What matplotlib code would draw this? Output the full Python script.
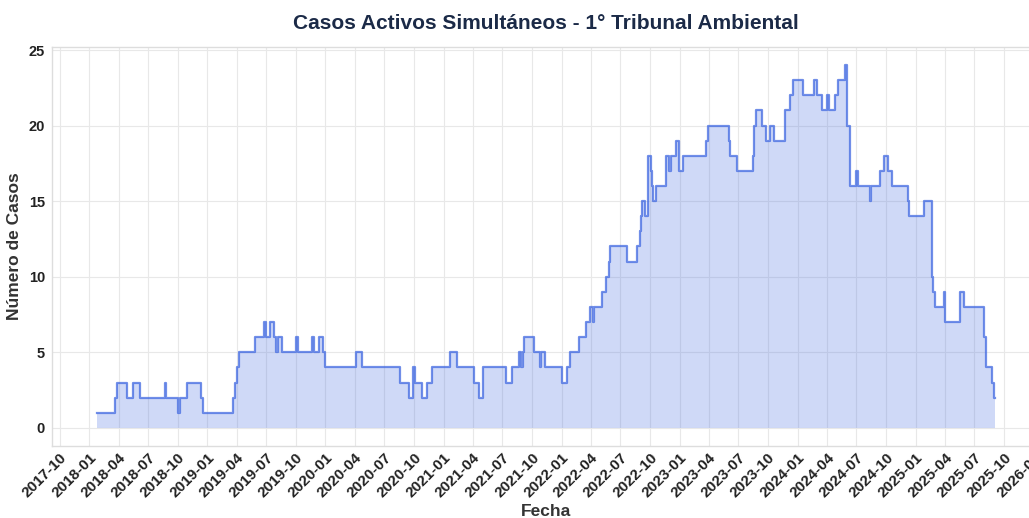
import pandas as pd
import matplotlib
matplotlib.use("Agg")
import matplotlib.pyplot as plt
import matplotlib.dates as mdates

plt.rcParams["font.family"] = ["Liberation Sans", "DejaVu Sans"]

# Cambios en el número de casos activos (fecha del cambio, nuevo valor)
fechas = [
    "2018-01-24", "2018-03-20", "2018-03-27", "2018-04-27", "2018-05-17", "2018-06-05",
    "2018-08-22", "2018-08-25", "2018-10-03", "2018-10-09", "2018-10-29", "2018-12-13",
    "2018-12-19", "2019-03-21", "2019-03-27", "2019-04-01", "2019-04-09", "2019-05-28",
    "2019-06-26", "2019-07-01", "2019-07-14", "2019-07-26", "2019-08-01", "2019-08-06",
    "2019-08-21", "2019-10-02", "2019-10-08", "2019-11-20", "2019-11-26", "2019-12-13",
    "2019-12-26", "2020-01-01", "2020-04-05", "2020-04-24", "2020-08-18", "2020-09-17",
    "2020-09-27", "2020-10-05", "2020-10-27", "2020-11-10", "2020-11-26", "2021-01-20",
    "2021-02-12", "2021-04-06", "2021-04-20", "2021-05-04", "2021-07-13", "2021-08-01",
    "2021-08-23", "2021-08-29", "2021-09-03", "2021-09-06", "2021-10-06", "2021-10-25",
    "2021-10-30", "2021-11-10", "2022-01-03", "2022-01-18", "2022-01-26", "2022-02-23",
    "2022-03-17", "2022-03-31", "2022-04-07", "2022-04-11", "2022-05-06", "2022-05-17",
    "2022-05-26", "2022-05-31", "2022-07-21", "2022-08-22", "2022-08-30", "2022-09-02",
    "2022-09-05", "2022-09-17", "2022-09-24", "2022-10-03", "2022-10-06", "2022-10-12",
    "2022-10-19", "2022-11-21", "2022-11-28", "2022-12-06", "2022-12-20", "2022-12-30",
    "2023-01-10", "2023-03-22", "2023-03-30", "2023-06-02", "2023-06-06", "2023-06-28",
    "2023-08-17", "2023-08-20", "2023-08-25", "2023-09-12", "2023-09-25", "2023-10-09",
    "2023-10-19", "2023-11-24", "2023-12-09", "2023-12-17", "2024-01-18", "2024-02-21",
    "2024-02-29", "2024-03-15", "2024-04-02", "2024-04-06", "2024-04-27", "2024-05-05",
    "2024-05-27", "2024-06-03", "2024-06-10", "2024-06-12", "2024-07-01", "2024-07-07",
    "2024-08-11", "2024-08-14", "2024-09-11", "2024-09-25", "2024-10-08", "2024-10-19",
    "2024-12-09", "2024-12-11", "2025-01-27", "2025-02-19", "2025-02-24", "2025-03-01",
    "2025-03-29", "2025-04-02", "2025-05-17", "2025-05-30", "2025-07-30", "2025-08-07",
    "2025-08-24", "2025-08-30", "2025-09-03",
]
casos = [
    1, 2, 3, 2, 3, 2,
    3, 2, 1, 2, 3, 2,
    1, 2, 3, 4, 5, 6,
    7, 6, 7, 6, 5, 6,
    5, 6, 5, 6, 5, 6,
    5, 4, 5, 4, 3, 2,
    4, 3, 2, 3, 4, 5,
    4, 3, 2, 4, 3, 4,
    5, 4, 5, 6, 5, 4,
    5, 4, 3, 4, 5, 6,
    7, 8, 7, 8, 9, 10,
    11, 12, 11, 12, 13, 14,
    15, 14, 18, 17, 16, 15,
    16, 18, 17, 18, 19, 17,
    18, 19, 20, 19, 18, 17,
    18, 20, 21, 20, 19, 20,
    19, 21, 22, 23, 22, 23,
    22, 21, 22, 21, 22, 23,
    24, 20, 18, 16, 17, 16,
    15, 16, 17, 18, 17, 16,
    15, 14, 15, 10, 9, 8,
    9, 7, 9, 8, 6, 4,
    3, 2, 2,
]

fechas = pd.to_datetime(fechas)

fig = plt.figure(figsize=(10.29, 5.18), dpi=100)
# el eje se sale un poco por la derecha, como en la imagen original
ax = fig.add_axes([52 / 1029, 72 / 518, 988 / 1029, 399 / 518])

ax.fill_between(fechas, casos, 0, step="post", color="#4169E1", alpha=0.25, linewidth=0)
ax.step(fechas, casos, where="post", color="#4169E1", alpha=0.75, linewidth=1.6)

ax.margins(x=0.05, y=0.05)
ax.set_ylim(bottom=-1.2)
ax.set_yticks([0, 5, 10, 15, 20, 25])

ax.xaxis.set_major_locator(mdates.MonthLocator(bymonth=[1, 4, 7, 10]))
ax.xaxis.set_major_formatter(mdates.DateFormatter("%Y-%m"))
plt.setp(ax.get_xticklabels(), rotation=45, ha="right", rotation_mode="anchor",
         fontweight="bold", fontsize=11, color="#222222")
plt.setp(ax.get_yticklabels(), fontweight="bold", fontsize=10.5, color="#222222")
ax.tick_params(axis="x", length=0, pad=3)
ax.tick_params(axis="y", length=0, pad=5)

ax.grid(True, color="#e8e8e8", linewidth=0.8)
ax.set_axisbelow(True)
for s in ax.spines.values():
    s.set_color("#dddddd")
    s.set_linewidth(1.0)

ax.set_title("Casos Activos Simultáneos - 1° Tribunal Ambiental",
             fontsize=15, fontweight="bold", color="#1b2a47", pad=13)
ax.set_xlabel("Fecha", fontsize=12.5, fontweight="bold", color="#333333", labelpad=3)
ax.set_ylabel("Número de Casos", fontsize=12.5, fontweight="bold", color="#333333", labelpad=5)

fig.savefig("out.png", dpi=100)
